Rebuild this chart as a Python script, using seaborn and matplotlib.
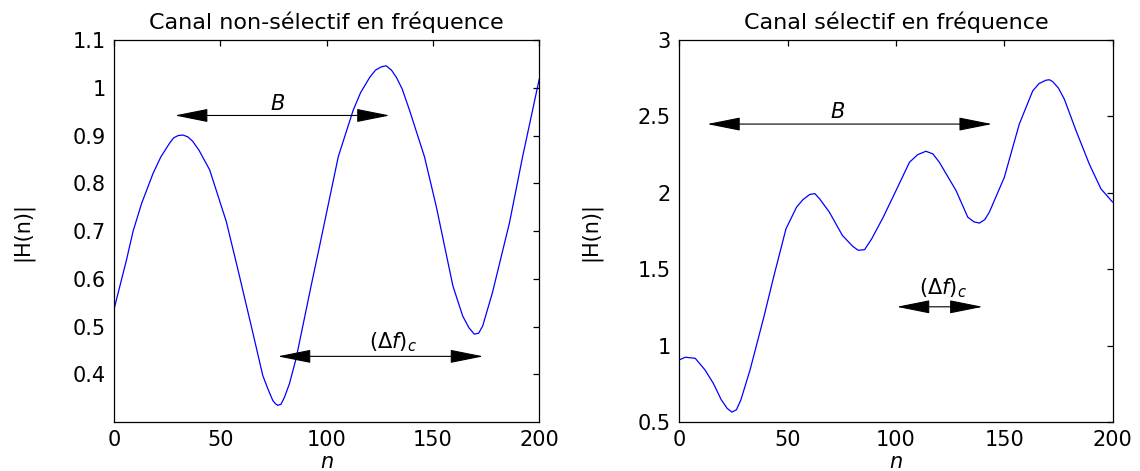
import matplotlib
matplotlib.use("Agg")
import matplotlib.pyplot as plt
import matplotlib.ticker as mticker
import pandas as pd
import numpy as np
import seaborn as sns

# curve: left panel (non-selective channel)
n_left = [0, 5.9, 9, 13, 18.4, 22, 26, 28, 30.2, 32.5, 34.8, 37, 40, 45, 52.8,
          58.3, 65.3, 70, 72.5, 74.7, 76, 77, 78.5, 80.2, 82.5, 85.6, 92.7, 97,
          105.5, 112.5, 116, 120.3, 123, 125.8, 128, 130.5, 132.8, 135.5, 139,
          146, 151.6, 159.4, 164, 167, 169.5, 171.5, 173.4, 178, 186, 192.2, 200]
h_left = [0.536, 0.640, 0.700, 0.758, 0.821, 0.855, 0.883, 0.895, 0.900, 0.901,
          0.897, 0.888, 0.869, 0.828, 0.720, 0.619, 0.487, 0.397, 0.368, 0.345,
          0.338, 0.335, 0.337, 0.352, 0.380, 0.432, 0.585, 0.675, 0.856, 0.953,
          0.990, 1.022, 1.037, 1.044, 1.046, 1.037, 1.022, 0.998, 0.953, 0.856,
          0.751, 0.585, 0.522, 0.497, 0.484, 0.486, 0.501, 0.571, 0.717, 0.856,
          1.018]

# right panel (frequency selective channel)
n_right = [0, 2.7, 7.3, 11.8, 15.6, 19.3, 22, 24.2, 26.3, 28.4, 32.6, 39, 43.5,
           49.2, 54.1, 57, 60.1, 62.5, 64.7, 69.2, 75.2, 80, 82.5, 85.5, 88.8,
           94.1, 100, 106.2, 110, 113.8, 117, 120, 127.7, 133.1, 136, 138.5,
           141, 143.1, 150, 156.9, 163.1, 166, 169.2, 170.8, 172.3, 175, 177.7,
           183.1, 189.2, 194.6, 200]
h_right = [0.907, 0.924, 0.917, 0.841, 0.754, 0.646, 0.590, 0.565, 0.580, 0.646,
           0.841, 1.189, 1.450, 1.765, 1.907, 1.955, 1.989, 1.995, 1.961, 1.874,
           1.722, 1.650, 1.624, 1.628, 1.700, 1.841, 2.015, 2.200, 2.250, 2.272,
           2.255, 2.200, 2.015, 1.841, 1.810, 1.802, 1.825, 1.874, 2.102, 2.450,
           2.667, 2.715, 2.737, 2.740, 2.728, 2.685, 2.613, 2.407, 2.189, 2.026,
           1.939]

titles = ["Canal non-sélectif en fréquence", "Canal sélectif en fréquence"]
ylims = [(0.3, 1.1), (0.5, 3.0)]
yticks = [[0.4, 0.5, 0.6, 0.7, 0.8, 0.9, 1.0, 1.1], [0.5, 1, 1.5, 2, 2.5, 3]]
# annotation arrows: (n start, n end, level) and label positions
b_arrows = [(28.6, 129.7, 0.942), (12.8, 144.3, 2.45)]
b_labels = [(77, 0.967), (73, 2.53)]
df_arrows = [(77, 173.7, 0.4375), (100.3, 140, 1.254)]
df_labels = [(131, 0.467), (121.5, 1.374)]

sns.set_style("white")
plt.rcParams['font.family'] = ['DejaVu Sans']
plt.rcParams['mathtext.fontset'] = 'dejavusans'
plt.rcParams['text.color'] = 'black'
plt.rcParams['axes.labelcolor'] = 'black'

fig = plt.figure(figsize=(11.4, 4.71), dpi=100)
ax1 = fig.add_axes([0.100, 0.104, 0.373, 0.811])
ax2 = fig.add_axes([0.596, 0.104, 0.380, 0.811])

data = [(n_left, h_left), (n_right, h_right)]
label_x = [-0.19, -0.18]
for i, ax in enumerate([ax1, ax2]):
    d = pd.DataFrame({"n": data[i][0], "H": data[i][1]})
    sns.lineplot(data=d, x="n", y="H", ax=ax, color="#0000ff", lw=0.9)
    ax.set_xlim(0, 200)
    ax.set_ylim(*ylims[i])
    ax.set_xticks([0, 50, 100, 150, 200])
    ax.set_yticks(yticks[i])
    ax.yaxis.set_major_formatter(mticker.FormatStrFormatter('%g'))
    ax.tick_params(direction='in', length=4, width=0.9, top=True, right=True,
                   labelsize=15, colors='black', pad=6)
    for s in ax.spines.values():
        s.set_color('black')
        s.set_linewidth(0.9)
    ax.set_title(titles[i], fontsize=16, pad=8, color='black')
    ax.set_xlabel("n", fontsize=15, fontstyle='italic', va='top')
    ax.xaxis.set_label_coords(0.5, -0.078)
    ax.set_ylabel("|H(n)|", fontsize=15)
    ax.yaxis.set_label_coords(label_x[i], 0.5)

    arrow = dict(arrowstyle='<|-|>,head_length=2.1,head_width=0.42',
                 color='black', lw=0.8, shrinkA=0, shrinkB=0)
    x0, x1, yl = b_arrows[i]
    ax.annotate("", xy=(x0, yl), xytext=(x1, yl), arrowprops=arrow)
    ax.text(b_labels[i][0], b_labels[i][1], "B", fontstyle='italic', fontsize=15,
            ha='center', va='center')
    x0, x1, yl = df_arrows[i]
    ax.annotate("", xy=(x0, yl), xytext=(x1, yl), arrowprops=arrow)
    ax.text(df_labels[i][0], df_labels[i][1], r"$(\Delta f)_c$", fontsize=15,
            ha='center', va='center')

fig.savefig("out.png", dpi=100)
